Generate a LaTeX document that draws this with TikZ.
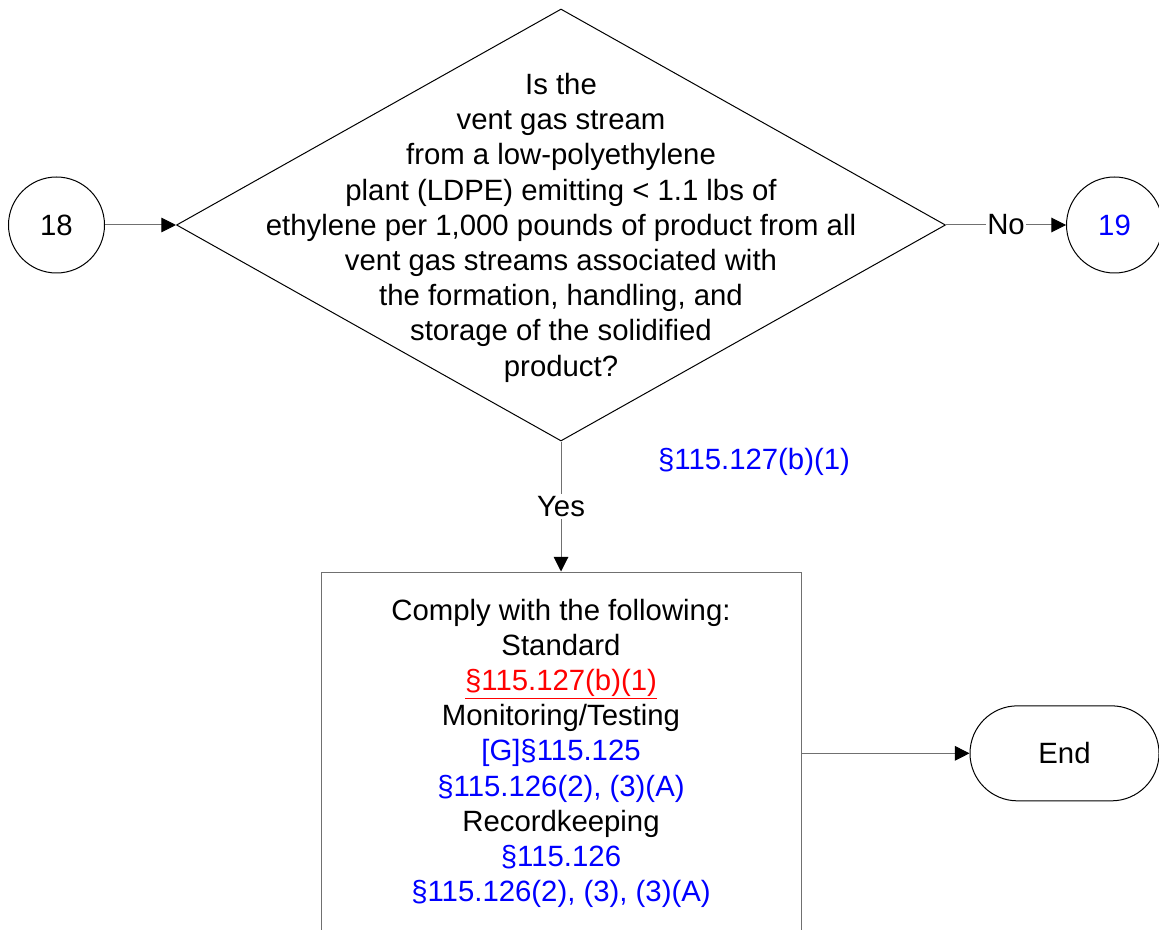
\documentclass[tikz,border=0pt]{standalone}
\usepackage{fontspec}
\setmainfont{Liberation Sans}
\usetikzlibrary{shapes,arrows.meta,positioning}
\definecolor{linkgray}{RGB}{112,112,112}

\begin{document}
\begin{tikzpicture}[->,>={Triangle[length=11pt,width=11pt,color=black]},line width=0.75pt,
  every node/.style={font=\fontsize{22}{26.4}\selectfont},
  main node/.style={draw=black,line width=0.75pt,inner sep=0pt},
  link/.style={draw=linkgray},
  ref/.style={text=blue}]
  \clip (0,0) rectangle (869.25pt,-697.5pt);
  \node[main node,diamond,minimum width=576.75pt,minimum height=324pt] (q18) at (420.75pt,-168.75pt) {};
  \node[align=center,yshift=-2pt] (q18text) at (q18.center) {Is the\\vent gas stream\\from a low-polyethylene\\plant (LDPE) emitting < 1.1 lbs of\\ethylene per 1,000 pounds of product from all\\vent gas streams associated with\\the formation, handling, and\\storage of the solidified\\product?};
  \node[main node,circle,minimum size=72pt,left=53.25pt of q18] (c18) {18};
  \node[main node,circle,minimum size=72pt,right=90pt of q18,ref] (c19) {19};
  \node[draw=linkgray,line width=0.75pt,minimum width=360pt,minimum height=272pt,align=center,below=97.5pt of q18] (act) {Comply with the following:\\Standard\\\textcolor{red}{\underline{§115.127(b)(1)}}\\Monitoring/Testing\\\textcolor{blue}{[G]§115.125}\\\textcolor{blue}{§115.126(2), (3)(A)}\\Recordkeeping\\\textcolor{blue}{§115.126}\\\textcolor{blue}{§115.126(2), (3), (3)(A)}};
  \node[main node,rectangle,rounded corners=35.6pt,minimum width=141.75pt,minimum height=71.25pt,right=126pt of act] (end) {End};
  \node[ref] (q18ref) at (565.5pt,-346.5pt) {§115.127(b)(1)};
  \path
  (c18) edge[link] (q18)
  (q18) edge[link] node[fill=white,inner sep=1pt] {No} (c19)
  (q18) edge[link] node[fill=white,inner sep=2pt] {Yes} (act)
  (act) edge[link] (end);
\end{tikzpicture}
\end{document}
